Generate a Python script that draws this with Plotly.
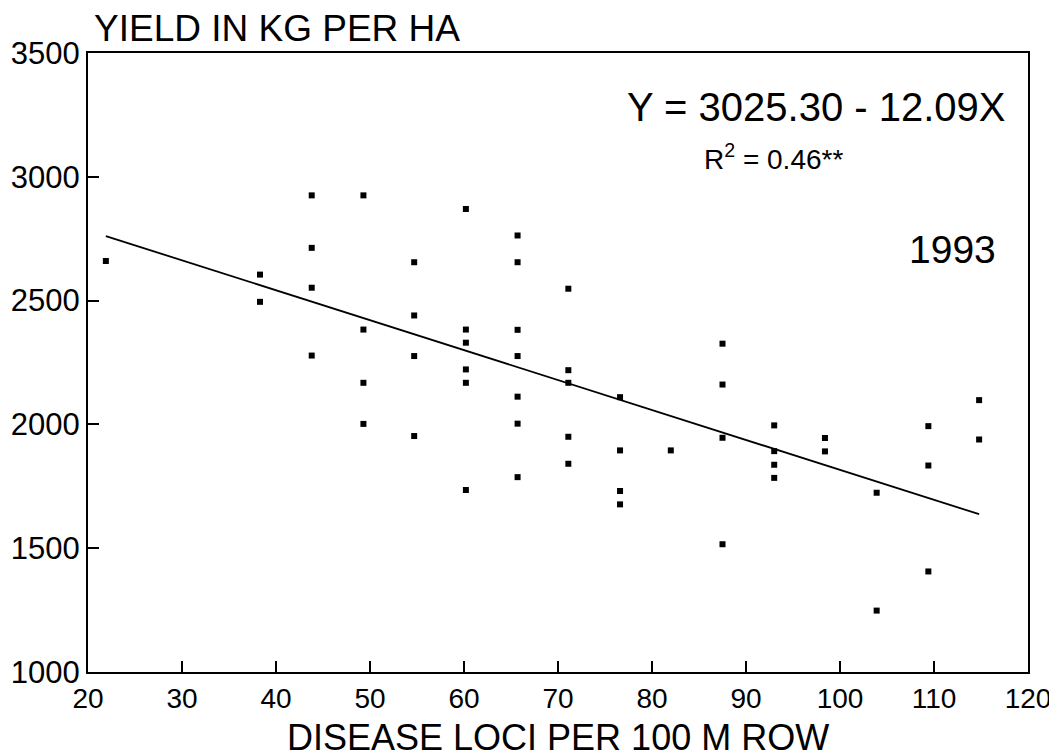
import plotly.graph_objects as go

# disease loci per 100 m row (x) and yield in kg/ha (y)
loci = [21.9,
        38.3, 38.3,
        43.8, 43.8, 43.8, 43.8,
        49.3, 49.3, 49.3, 49.3,
        54.7, 54.7, 54.7, 54.7,
        60.2, 60.2, 60.2, 60.2, 60.2, 60.2,
        65.7, 65.7, 65.7, 65.7, 65.7, 65.7, 65.7,
        71.1, 71.1, 71.1, 71.1, 71.1,
        76.6, 76.6, 76.6, 76.6,
        82.0,
        87.5, 87.5, 87.5, 87.5,
        93.0, 93.0, 93.0, 93.0,
        98.4, 98.4,
        103.9, 103.9,
        109.4, 109.4, 109.4,
        114.8, 114.8]
yield_kg = [2660,
            2605, 2495,
            2925, 2713, 2552, 2278,
            2925, 2383, 2168, 2002,
            2655, 2440, 2276, 1953,
            2870, 2383, 2330, 2222, 2168, 1735,
            2763, 2655, 2382, 2276, 2112, 2003, 1787,
            2548, 2219, 2168, 1950, 1841,
            2110, 1895, 1731, 1677,
            1895,
            2326, 2161, 1946, 1516,
            1996, 1892, 1837, 1784,
            1945, 1891,
            1724, 1248,
            1993, 1834, 1406,
            2098, 1939]

intercept = 3025.30
slope = -12.09

x_ticks = [20, 30, 40, 50, 60, 70, 80, 90, 100, 110, 120]
y_ticks = [1000, 1500, 2000, 2500, 3000, 3500]

FONT = "Liberation Sans, Arial, sans-serif"

fig = go.Figure()

fig.add_trace(go.Scatter(
    x=loci, y=yield_kg, mode="markers",
    marker=dict(symbol="square", size=6, color="black"),
    showlegend=False,
))

# fitted regression line over the observed range
x_line = [min(loci), max(loci)]
y_line = [intercept + slope * v for v in x_line]
fig.add_trace(go.Scatter(
    x=x_line, y=y_line, mode="lines",
    line=dict(color="black", width=1.8),
    showlegend=False,
))

axis_common = dict(
    showgrid=False, zeroline=False, automargin=False,
    showline=True, linecolor="black", linewidth=2, mirror=True,
    ticks="inside", ticklen=11, tickwidth=1.5, tickcolor="black",
    ticklabeloverflow="allow",
)

fig.update_xaxes(range=[20, 120], tickvals=x_ticks,
                 tickfont=dict(family=FONT, size=28, color="black"), **axis_common)
fig.update_yaxes(range=[1000, 3500], tickvals=y_ticks,
                 tickfont=dict(family=FONT, size=31, color="black"), **axis_common)

# axis titles
fig.add_annotation(
    xref="paper", yref="paper", x=0, y=1, xanchor="left", yanchor="bottom",
    xshift=4, yshift=2, showarrow=False,
    text="YIELD IN KG PER HA", font=dict(family=FONT, size=37, color="black"),
)
fig.add_annotation(
    xref="paper", yref="paper", x=0.5, y=-0.106, xanchor="center", yanchor="middle",
    showarrow=False,
    text="DISEASE LOCI PER 100 M ROW", font=dict(family=FONT, size=36, color="black"),
)

# regression text
fig.add_annotation(
    xref="paper", yref="paper", x=0.978, y=0.912, xanchor="right", yanchor="middle",
    showarrow=False,
    text="Y = 3025.30 - 12.09X", font=dict(family=FONT, size=40, color="black"),
)
fig.add_annotation(
    xref="paper", yref="paper", x=0.805, y=0.832, xanchor="right", yanchor="middle",
    showarrow=False,
    text="R<sup>2</sup> = 0.46**", font=dict(family=FONT, size=28, color="black"),
)
fig.add_annotation(
    xref="paper", yref="paper", x=0.968, y=0.682, xanchor="right", yanchor="middle",
    showarrow=False,
    text="1993", font=dict(family=FONT, size=39, color="black"),
)

fig.update_layout(
    width=1049, height=755,
    margin=dict(l=88, r=21, t=53, b=83),
    plot_bgcolor="white", paper_bgcolor="white",
    font=dict(family=FONT, color="black"),
)

# drop the default page margin so the figure sits at the window's top-left
fig.write_html("out.html", config={"displayModeBar": False},
               post_script="document.body.style.margin = '0';")
